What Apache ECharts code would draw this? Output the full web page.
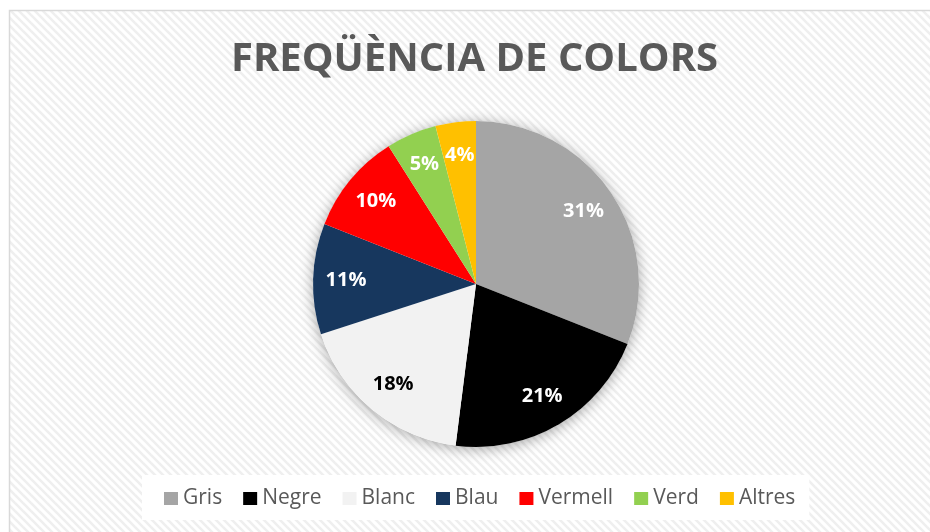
<!DOCTYPE html>
<html>
<head>
<meta charset="utf-8">
<script src="https://cdn.jsdelivr.net/npm/echarts@6/dist/echarts.min.js"></script>
<style>
  html, body { margin: 0; padding: 0; background: #fff; }
  #chart { width: 930px; height: 532px; }
</style>
</head>
<body>
<div id="chart"></div>
<script>
const categories = ['Gris', 'Negre', 'Blanc', 'Blau', 'Vermell', 'Verd', 'Altres']
const values = [31, 21, 18, 11, 10, 5, 4]
const colors = ['#a5a5a5', '#000000', '#f2f2f2', '#17375e', '#ff0000', '#92d050', '#ffc000']
const labelColors = ['#fff', '#fff', '#000', '#fff', '#fff', '#fff', '#fff']

// striped background tile
function stripeTile() {
  const c = document.createElement('canvas')
  c.width = 8
  c.height = 8
  const ctx = c.getContext('2d')
  ctx.fillStyle = '#ffffff'
  ctx.fillRect(0, 0, 8, 8)
  ctx.strokeStyle = '#efefef'
  ctx.lineWidth = 2.6
  for (let k = -1; k <= 1; k++) {
    ctx.beginPath()
    ctx.moveTo(k * 8 - 2, -2)
    ctx.lineTo(k * 8 + 10, 10)
    ctx.stroke()
  }
  return c
}

const chart = echarts.init(document.getElementById('chart'))
const center = [476, 284]
const font = '"Open Sans", "Noto Sans", sans-serif'

chart.setOption({
  backgroundColor: '#fff',
  graphic: [{
    type: 'rect',
    z: -10,
    silent: true,
    shape: { x: 9.5, y: 10.5, width: 940, height: 540 },
    style: { fill: { image: stripeTile(), repeat: 'repeat' }, stroke: '#d9d9d9', lineWidth: 1.5 }
  }],
  title: {
    text: 'FREQÜÈNCIA DE COLORS',
    left: 231,
    top: 40,
    padding: 0,
    textStyle: { fontFamily: font, fontWeight: 'bold', fontSize: 40, color: '#595959' }
  },
  legend: {
    top: 475,
    left: 142,
    icon: 'rect',
    itemWidth: 14,
    itemHeight: 13,
    itemGap: 21,
    padding: [13, 14, 11, 22],
    backgroundColor: '#ffffff',
    textStyle: { fontFamily: font, fontSize: 21, color: '#595959' },
    data: categories.map((n, i) => ({ name: n, itemStyle: { color: colors[i] } }))
  },
  series: [
    {
      // soft drop shadow behind the pie
      type: 'pie',
      name: 'shadow',
      silent: true,
      center: center,
      radius: 163,
      label: { show: false },
      labelLine: { show: false },
      itemStyle: { color: '#ffffff', shadowBlur: 14, shadowColor: 'rgba(0,0,0,0.35)', shadowOffsetY: 2 },
      data: [{ name: '__all', value: 1 }],
      animation: false
    },
    {
      type: 'pie',
      name: 'Colors',
      center: center,
      radius: 163,
      startAngle: 90,
      clockwise: true,
      label: { show: false },
      labelLine: { show: false },
      itemStyle: { borderWidth: 0 },
      data: categories.map((n, i) => ({ name: n, value: values[i], itemStyle: { color: colors[i] } })),
      animation: false
    },
    {
      // label ring, puts the labels at about 0.78 of the radius
      type: 'pie',
      name: 'labels',
      silent: true,
      center: center,
      radius: [91, 163],
      startAngle: 90,
      clockwise: true,
      itemStyle: { color: 'rgba(0,0,0,0)' },
      labelLine: { show: false },
      label: {
        show: true,
        position: 'inside',
        formatter: '{c}%',
        fontFamily: font,
        fontWeight: 'bold',
        fontSize: 20
      },
      data: categories.map((n, i) => ({ name: n, value: values[i], label: { color: labelColors[i] } })),
      animation: false
    }
  ]
})
</script>
</body>
</html>
